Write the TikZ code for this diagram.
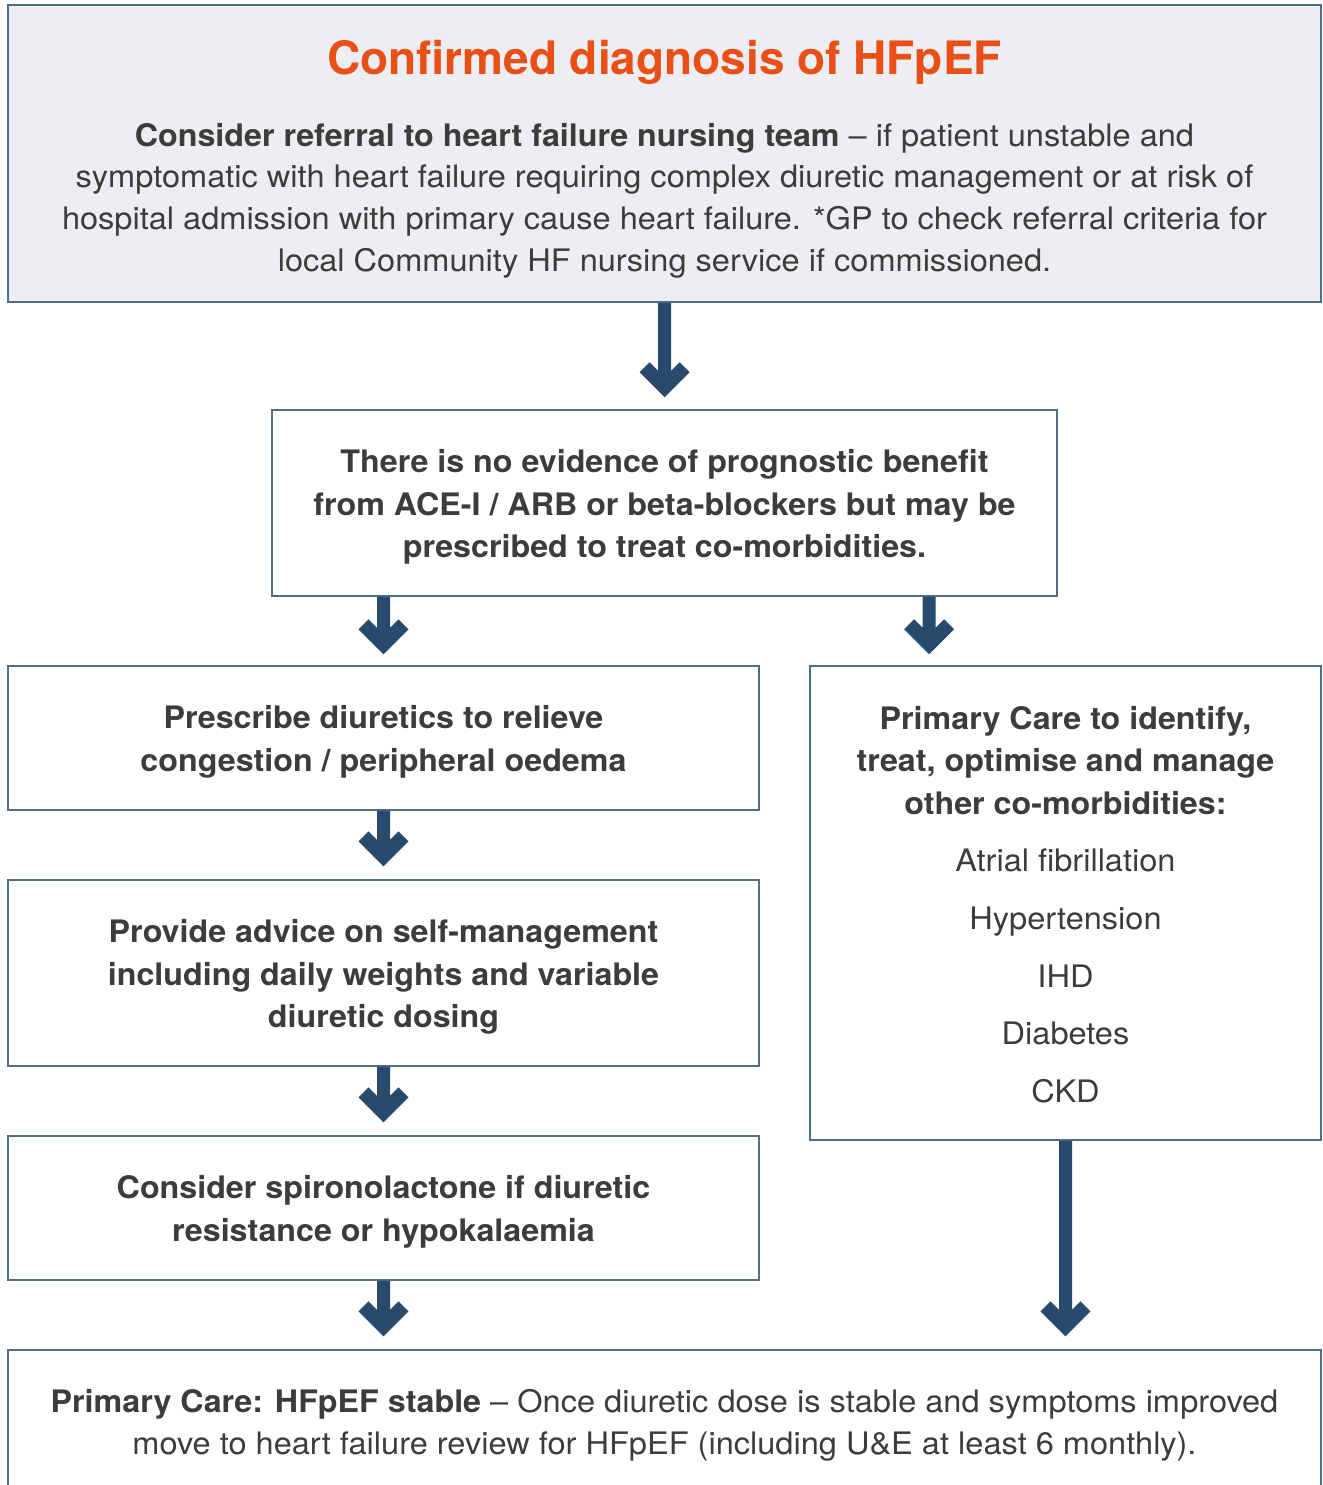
\documentclass[tikz,border=0pt]{standalone}
\usepackage{fontspec}
\setmainfont{TeX Gyre Heros}[FakeStretch=1.05, BoldFeatures={FakeStretch=1.04}]
\newfontfamily\titlefont{TeX Gyre Heros}
\usetikzlibrary{calc}
\definecolor{bordc}{RGB}{78,108,140}
\definecolor{arrowc}{RGB}{40,74,108}
\definecolor{topfill}{RGB}{237,237,242}
\definecolor{titlec}{RGB}{232,80,24}
\definecolor{txtc}{RGB}{60,60,60}
\newcommand\flowarrow[2]{%
  \fill[arrowc] ($(#1)+(-6.5,0)$) -- ($(#2)+(-6.5,-26.5)$) -- ($(#2)+(-15,-35)$) -- ($(#2)+(-25,-25)$) -- (#2)
   -- ($(#2)+(25,-25)$) -- ($(#2)+(15,-35)$) -- ($(#2)+(6.5,-26.5)$) -- ($(#1)+(6.5,0)$) -- cycle;}
\tikzset{
  box/.style={draw=bordc, line width=1.5pt, inner sep=0pt},
  btext/.style={inner sep=0pt, align=center, text=txtc, font=\fontsize{31}{42.5}\selectfont},
}
\begin{document}
\begin{tikzpicture}[x=1pt,y=-1pt]
\useasboundingbox (0,0) rectangle (1322,1485);
% top box
\node[box, fill=topfill, minimum width=1313pt, minimum height=297pt] (top) at (664.5,153.5) {};
\node[text=titlec, font=\titlefont\fontsize{46}{50}\selectfont\bfseries, inner sep=0pt, anchor=base] (title) at (664.5,75) {Confirmed diagnosis of HFpEF};
\node[btext, font=\fontsize{31}{41.7}\selectfont] (toptext) at (664.5,200.5) {\textbf{Consider referral to heart failure nursing team} -- if patient unstable and\\symptomatic with heart failure requiring complex diuretic management or at risk of\\hospital admission with primary cause heart failure. *GP to check referral criteria for\\local Community HF nursing service if commissioned.};
% box2
\node[box, minimum width=785pt, minimum height=186pt] (b2) at (664.5,503) {};
\node[btext, font=\fontsize{31}{42.5}\selectfont\bfseries] (b2t) at ($(b2)+(0,4)$) {There is no evidence of prognostic benefit\\from ACE-I / ARB or beta-blockers but may be\\prescribed to treat co-morbidities.};
% left column
\node[box, minimum width=751pt, minimum height=144pt] (b3) at (383.5,738) {};
\node[btext, font=\fontsize{31}{42.5}\selectfont\bfseries] (b3t) at ($(b3)+(0,4)$) {Prescribe diuretics to relieve\\congestion / peripheral oedema};
\node[box, minimum width=751pt, minimum height=186pt] (b4) at (383.5,973) {};
\node[btext, font=\fontsize{31}{42.5}\selectfont\bfseries] (b4t) at ($(b4)+(0,4)$) {Provide advice on self-management\\including daily weights and variable\\diuretic dosing};
\node[box, minimum width=751pt, minimum height=144pt] (b5) at (383.5,1208) {};
\node[btext, font=\fontsize{31}{42.5}\selectfont\bfseries] (b5t) at ($(b5)+(0,4)$) {Consider spironolactone if diuretic\\resistance or hypokalaemia};
% right column
\node[box, minimum width=511pt, minimum height=474pt] (b6) at (1065.5,903) {};
\node[btext] (b6t) at ($(b6)+(0,1.5)$) {\textbf{Primary Care to identify,}\\\textbf{treat, optimise and manage}\\\textbf{other co-morbidities:}\\[15.2pt]Atrial fibrillation\\[15.2pt]Hypertension\\[15.2pt]IHD\\[15.2pt]Diabetes\\[15.2pt]CKD};
% bottom
\node[box, minimum width=1313pt, minimum height=145pt] (b7) at (664.5,1422.5) {};
\node[btext] (b7t) at ($(b7)+(0,3)$) {\textbf{Primary Care: HFpEF stable} -- Once diuretic dose is stable and symptoms improved\\move to heart failure review for HFpEF (including U\&E at least 6 monthly).};
% arrows
\coordinate (rc) at (929,0);
\flowarrow{top.south}{$(b2.north)+(0,-12)$}
\flowarrow{b2.south -| b3.north}{$(b3.north)+(0,-11)$}
\flowarrow{b2.south -| rc}{$(rc |- b6.north)+(0,-11)$}
\flowarrow{b3.south}{$(b4.north)+(0,-13)$}
\flowarrow{b4.south}{$(b5.north)+(0,-13)$}
\flowarrow{b5.south}{$(b7.north -| b5.south)+(0,-13)$}
\flowarrow{b6.south}{$(b7.north -| b6.south)+(0,-13)$}
\end{tikzpicture}
\end{document}
